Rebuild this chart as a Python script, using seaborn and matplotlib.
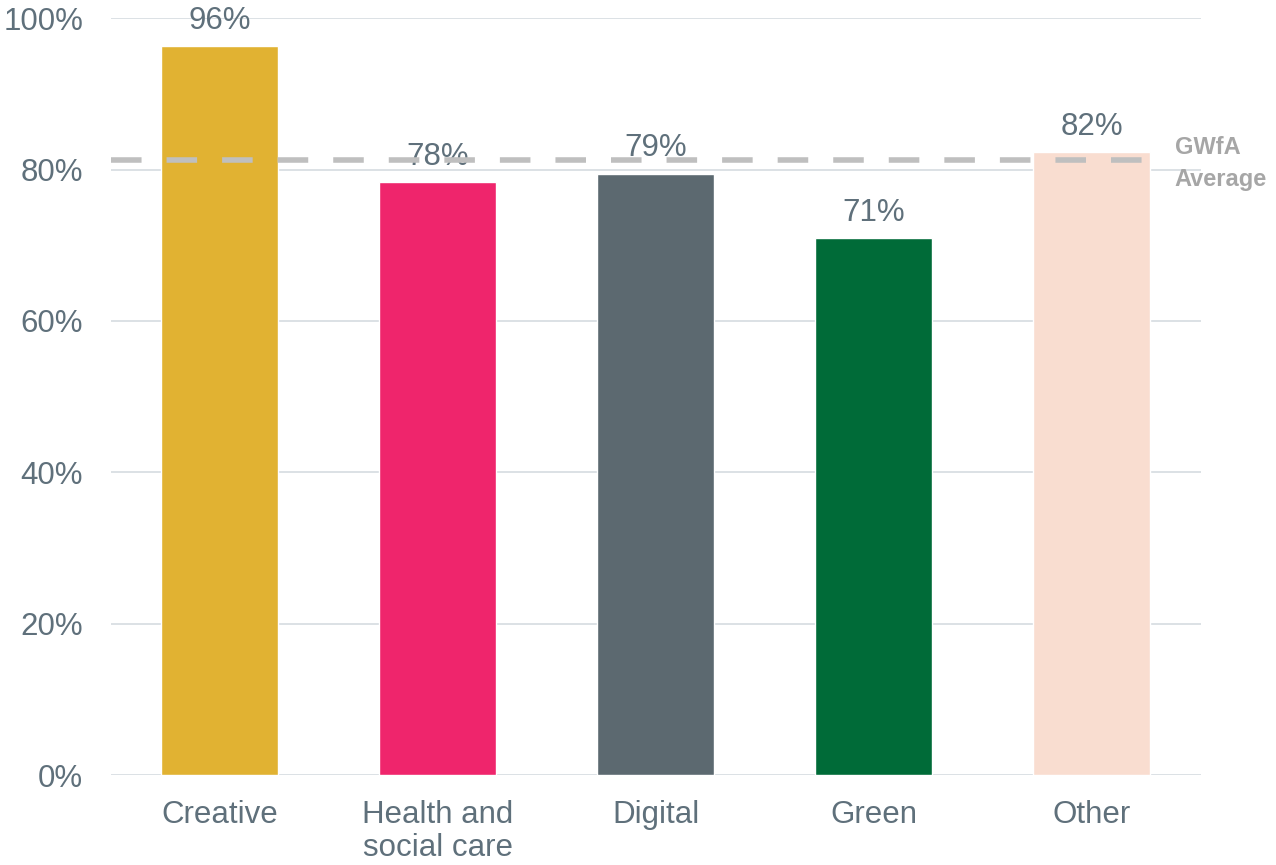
import matplotlib
matplotlib.use("Agg")
import matplotlib.pyplot as plt
import seaborn as sns
import pandas as pd

categories = ["Creative", "Health and\nsocial care", "Digital", "Green", "Other"]
values = [96.3, 78.3, 79.4, 70.9, 82.3]
colors = ["#E1B232", "#EF256C", "#5C6970", "#006B38", "#F9DDD0"]
average = 81.2
yticks = [0, 20, 40, 60, 80, 100]

sns.set_style("white")
plt.rcParams["font.family"] = ["Liberation Sans", "DejaVu Sans"]
text_col = "#5F707B"

df = pd.DataFrame({"sector": categories, "value": values})

fig = plt.figure(figsize=(12.76, 8.65), dpi=100)
ax = fig.add_axes([0.087, 0.104, 0.854, 0.875])
sns.barplot(data=df, x="sector", y="value", hue="sector", palette=colors,
            width=0.537, saturation=1, legend=False, ax=ax, zorder=2)

ax.set_ylim(0, 100)
ax.set_xlim(-0.5, 4.5)
ax.set_yticks(yticks)
ax.set_yticklabels([f"{t}%" for t in yticks])
ax.yaxis.grid(True, color="#D9DEE3", linewidth=1.3, zorder=0)
ax.set_axisbelow(True)
for s in ax.spines.values():
    s.set_visible(False)
ax.tick_params(axis="both", length=0, labelsize=22.5, colors=text_col)
ax.tick_params(axis="y", pad=20)
ax.tick_params(axis="x", pad=18)
ax.set_xlabel("")
ax.set_ylabel("")
for lbl in ax.get_xticklabels():
    lbl.set_linespacing(1.15)

for i, v in enumerate(values):
    ax.text(i, v + 1.4, f"{round(v)}%", ha="center", va="bottom",
            fontsize=22.5, color=text_col, zorder=3)

ax.plot([-0.5, 4.33], [average, average], color="#BFBFBF", linewidth=4,
        linestyle=(0, (5.5, 4.5)), zorder=4, clip_on=False)
ax.text(4.38, average - 0.4, "GWfA\nAverage", ha="left", va="center", fontsize=17,
        fontweight="bold", color="#A6A6A6", linespacing=1.45)

fig.savefig("out.png", dpi=100)
